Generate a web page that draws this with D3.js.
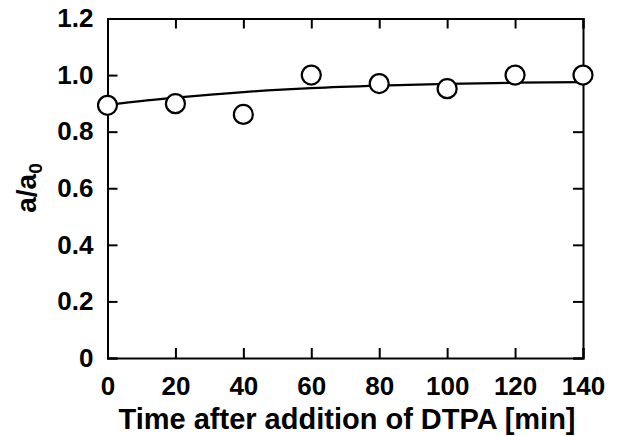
<!DOCTYPE html>
<html>
<head>
<meta charset="utf-8">
<script src="https://cdn.jsdelivr.net/npm/d3@7"></script>
<style>
  html, body { margin: 0; padding: 0; background: #fff; }
  svg { display: block; }
  text { font-family: "Liberation Sans", Arial, sans-serif; font-weight: bold; fill: #000; }
</style>
</head>
<body>
<svg id="chart" width="619" height="436"></svg>
<script>
// Data
const times = [0, 20, 40, 60, 80, 100, 120, 140];
const ratios = [0.893, 0.899, 0.861, 1.0, 0.97, 0.952, 1.0, 1.0];
// Fitted curve
const fitTimes = [0, 20, 40, 60, 80, 100, 120, 140];
const fitValues = [0.895, 0.920, 0.940, 0.954, 0.963, 0.969, 0.973, 0.975];
const xTicks = [0, 20, 40, 60, 80, 100, 120, 140];
const yTicks = [0, 0.2, 0.4, 0.6, 0.8, 1.0, 1.2];

const svg = d3.select("#chart");
const m = { left: 107.5, right: 583, top: 18.5, bottom: 358 };

const x = d3.scaleLinear().domain([0, 140]).range([m.left, m.right]);
const y = d3.scaleLinear().domain([0, 1.2]).range([m.bottom, m.top]);

const tickLen = 10;
const fmtY = d => d === 0 ? "0" : d3.format(".1f")(d);

// Axes (ticks inward on all four sides)
const axB = svg.append("g").attr("transform", `translate(0,${m.bottom})`)
  .call(d3.axisBottom(x).tickValues(xTicks).tickSize(-tickLen).tickPadding(19).tickFormat(d3.format("d")));
const axT = svg.append("g").attr("transform", `translate(0,${m.top})`)
  .call(d3.axisTop(x).tickValues(xTicks).tickSize(-tickLen).tickFormat(""));
const axL = svg.append("g").attr("transform", `translate(${m.left},0)`)
  .call(d3.axisLeft(y).tickValues(yTicks).tickSize(-tickLen).tickPadding(14).tickFormat(fmtY));
const axR = svg.append("g").attr("transform", `translate(${m.right},0)`)
  .call(d3.axisRight(y).tickValues(yTicks).tickSize(-tickLen).tickFormat(""));

[axB, axT, axL, axR].forEach(g => {
  g.select(".domain").attr("stroke", "#000").attr("stroke-width", 2);
  g.selectAll(".tick line").attr("stroke", "#000").attr("stroke-width", 2);
});
axB.selectAll(".tick text").style("font-size", "26px").style("font-family", "Liberation Sans, Arial, sans-serif").style("font-weight", "bold").attr("dy", "0.71em");
axL.selectAll(".tick text").style("font-size", "26px").style("font-family", "Liberation Sans, Arial, sans-serif").style("font-weight", "bold");

// Fitted curve
const line = d3.line().x((d, i) => x(fitTimes[i])).y(d => y(d)).curve(d3.curveMonotoneX);
svg.append("path").datum(fitValues)
  .attr("d", line).attr("fill", "none").attr("stroke", "#000").attr("stroke-width", 2.2);

// Points
svg.append("g").selectAll("circle").data(times).join("circle")
  .attr("cx", d => x(d))
  .attr("cy", (d, i) => y(ratios[i]))
  .attr("r", 9.5)
  .attr("fill", "#fff").attr("stroke", "#000").attr("stroke-width", 2.2);

// Axis titles
svg.append("text").attr("x", 347).attr("y", 429).attr("text-anchor", "middle")
  .style("font-size", "29px").text("Time after addition of DTPA [min]");

const yl = svg.append("text").attr("transform", "translate(36,188) rotate(-90)")
  .attr("text-anchor", "middle").style("font-size", "28px");
yl.append("tspan").text("a/a");
yl.append("tspan").attr("dy", 6).style("font-size", "19px").text("0");
</script>
</body>
</html>
